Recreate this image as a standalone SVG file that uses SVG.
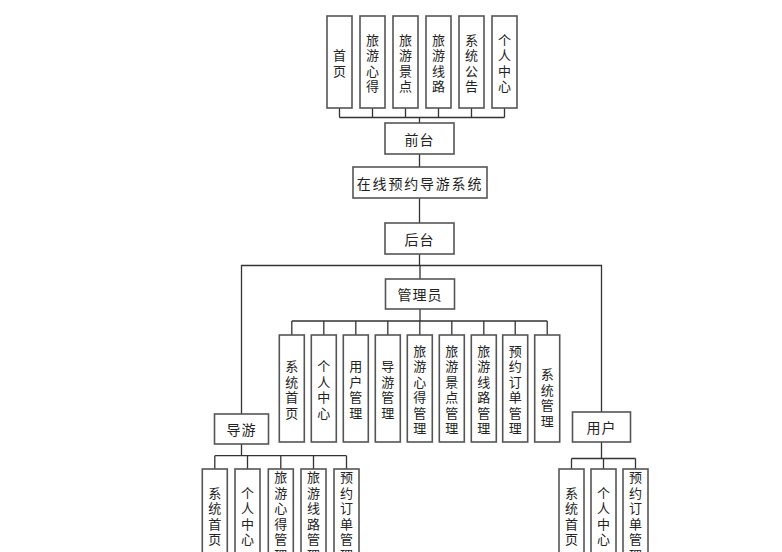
<svg xmlns="http://www.w3.org/2000/svg" width="782" height="552" viewBox="0 0 782 552">
<style>
.b{fill:#fff;stroke:#555;stroke-width:1.6}
.t{font-family:"Noto Sans CJK SC","Noto Sans",sans-serif;font-size:13px;fill:#222;text-anchor:middle;dominant-baseline:central}
.h{font-family:"Noto Sans CJK SC","Noto Sans",sans-serif;font-size:14px;fill:#222;text-anchor:middle;dominant-baseline:central;letter-spacing:1px}
.c{fill:none;stroke:#333;stroke-width:1.3}
</style>
<rect width="782" height="552" fill="#fff"/>
<g id="connectors">
<path class="c" d="M339.5 108V117.5M372.5 108V117.5M405.5 108V117.5M438.5 108V117.5M471.5 108V117.5M504.5 108V117.5M339.5 117.5H504.5M419.5 117.5V123"/>
<path class="c" d="M419.5 154V167M419.5 198V223M419.5 254V265.5"/>
<path class="c" d="M241.5 414V265.5H601.5V412M420 265.5V279"/>
<path class="c" d="M420 309V321M291.8 321H547.2M291.8 321V335M323.8 321V335M355.8 321V335M387.8 321V335M419.8 321V335M451.8 321V335M483.8 321V335M515.2 321V335M547.2 321V335"/>
<path class="c" d="M241.5 444V455.7M214.8 455.7H346.5M214.8 455.7V469M247.5 455.7V469M280.8 455.7V469M313.5 455.7V469M346.5 455.7V469"/>
<path class="c" d="M601.5 442V458.5M571.5 458.5H635.5M571.5 458.5V469M603.5 458.5V469M635.5 458.5V469"/>
</g>
<g id="n_shouye"><rect class="b" x="327" y="16" width="25" height="92"/><text class="t"><tspan x="339.5" y="54.3">首</tspan><tspan x="339.5" y="69.8">页</tspan></text></g>
<g id="n_xinde"><rect class="b" x="360" y="16" width="25" height="92"/><text class="t"><tspan x="372.5" y="38.8">旅</tspan><tspan x="372.5" y="54.3">游</tspan><tspan x="372.5" y="69.8">心</tspan><tspan x="372.5" y="85.3">得</tspan></text></g>
<g id="n_jingdian"><rect class="b" x="393" y="16" width="25" height="92"/><text class="t"><tspan x="405.5" y="38.8">旅</tspan><tspan x="405.5" y="54.3">游</tspan><tspan x="405.5" y="69.8">景</tspan><tspan x="405.5" y="85.3">点</tspan></text></g>
<g id="n_xianlu"><rect class="b" x="426" y="16" width="25" height="92"/><text class="t"><tspan x="438.5" y="38.8">旅</tspan><tspan x="438.5" y="54.3">游</tspan><tspan x="438.5" y="69.8">线</tspan><tspan x="438.5" y="85.3">路</tspan></text></g>
<g id="n_gonggao"><rect class="b" x="459" y="16" width="25" height="92"/><text class="t"><tspan x="471.5" y="38.8">系</tspan><tspan x="471.5" y="54.3">统</tspan><tspan x="471.5" y="69.8">公</tspan><tspan x="471.5" y="85.3">告</tspan></text></g>
<g id="n_geren"><rect class="b" x="492" y="16" width="25" height="92"/><text class="t"><tspan x="504.5" y="38.8">个</tspan><tspan x="504.5" y="54.3">人</tspan><tspan x="504.5" y="69.8">中</tspan><tspan x="504.5" y="85.3">心</tspan></text></g>
<g id="n_qiantai"><rect class="b" x="385" y="123" width="69" height="31"/><text class="h" x="419.5" y="138.5">前台</text></g>
<g id="n_system"><rect class="b" x="353" y="167" width="134" height="31"/><text class="h" x="420" y="182.5" style="letter-spacing:1.8px">在线预约导游系统</text></g>
<g id="n_houtai"><rect class="b" x="385" y="223" width="69" height="31"/><text class="h" x="419.5" y="238.5">后台</text></g>
<g id="n_admin"><rect class="b" x="385.5" y="279" width="69" height="30"/><text class="h" x="420" y="294">管理员</text></g>
<g id="a_shouye"><rect class="b" x="279.3" y="335" width="25" height="107"/><text class="t"><tspan x="291.8" y="365.3">系</tspan><tspan x="291.8" y="380.8">统</tspan><tspan x="291.8" y="396.3">首</tspan><tspan x="291.8" y="411.8">页</tspan></text></g>
<g id="a_geren"><rect class="b" x="311.3" y="335" width="25" height="107"/><text class="t"><tspan x="323.8" y="365.3">个</tspan><tspan x="323.8" y="380.8">人</tspan><tspan x="323.8" y="396.3">中</tspan><tspan x="323.8" y="411.8">心</tspan></text></g>
<g id="a_yonghu"><rect class="b" x="343.3" y="335" width="25" height="107"/><text class="t"><tspan x="355.8" y="365.3">用</tspan><tspan x="355.8" y="380.8">户</tspan><tspan x="355.8" y="396.3">管</tspan><tspan x="355.8" y="411.8">理</tspan></text></g>
<g id="a_daoyou"><rect class="b" x="375.3" y="335" width="25" height="107"/><text class="t"><tspan x="387.8" y="365.3">导</tspan><tspan x="387.8" y="380.8">游</tspan><tspan x="387.8" y="396.3">管</tspan><tspan x="387.8" y="411.8">理</tspan></text></g>
<g id="a_xinde"><rect class="b" x="407.3" y="335" width="25" height="107"/><text class="t"><tspan x="419.8" y="349.8">旅</tspan><tspan x="419.8" y="365.3">游</tspan><tspan x="419.8" y="380.8">心</tspan><tspan x="419.8" y="396.3">得</tspan><tspan x="419.8" y="411.8">管</tspan><tspan x="419.8" y="427.3">理</tspan></text></g>
<g id="a_jingdian"><rect class="b" x="439.3" y="335" width="25" height="107"/><text class="t"><tspan x="451.8" y="349.8">旅</tspan><tspan x="451.8" y="365.3">游</tspan><tspan x="451.8" y="380.8">景</tspan><tspan x="451.8" y="396.3">点</tspan><tspan x="451.8" y="411.8">管</tspan><tspan x="451.8" y="427.3">理</tspan></text></g>
<g id="a_xianlu"><rect class="b" x="471.3" y="335" width="25" height="107"/><text class="t"><tspan x="483.8" y="349.8">旅</tspan><tspan x="483.8" y="365.3">游</tspan><tspan x="483.8" y="380.8">线</tspan><tspan x="483.8" y="396.3">路</tspan><tspan x="483.8" y="411.8">管</tspan><tspan x="483.8" y="427.3">理</tspan></text></g>
<g id="a_dingdan"><rect class="b" x="502.7" y="335" width="25" height="107"/><text class="t"><tspan x="515.2" y="349.8">预</tspan><tspan x="515.2" y="365.3">约</tspan><tspan x="515.2" y="380.8">订</tspan><tspan x="515.2" y="396.3">单</tspan><tspan x="515.2" y="411.8">管</tspan><tspan x="515.2" y="427.3">理</tspan></text></g>
<g id="a_xitong"><rect class="b" x="534.7" y="335" width="25" height="107"/><text class="t"><tspan x="547.2" y="373">系</tspan><tspan x="547.2" y="388.5">统</tspan><tspan x="547.2" y="404">管</tspan><tspan x="547.2" y="419.5">理</tspan></text></g>
<g id="n_guide"><rect class="b" x="214.5" y="414" width="54" height="30"/><text class="h" x="241.5" y="429">导游</text></g>
<g id="n_user"><rect class="b" x="572.5" y="412" width="58" height="30"/><text class="h" x="601.5" y="427">用户</text></g>
<g id="g_shouye"><rect class="b" x="202.3" y="469" width="25" height="100"/><text class="t"><tspan x="214.8" y="491.5">系</tspan><tspan x="214.8" y="507">统</tspan><tspan x="214.8" y="522.5">首</tspan><tspan x="214.8" y="538">页</tspan></text></g>
<g id="g_geren"><rect class="b" x="235" y="469" width="25" height="100"/><text class="t"><tspan x="247.5" y="491.5">个</tspan><tspan x="247.5" y="507">人</tspan><tspan x="247.5" y="522.5">中</tspan><tspan x="247.5" y="538">心</tspan></text></g>
<g id="g_xinde"><rect class="b" x="268.3" y="469" width="25" height="100"/><text class="t"><tspan x="280.8" y="476">旅</tspan><tspan x="280.8" y="491.5">游</tspan><tspan x="280.8" y="507">心</tspan><tspan x="280.8" y="522.5">得</tspan><tspan x="280.8" y="538">管</tspan><tspan x="280.8" y="553.5">理</tspan></text></g>
<g id="g_xianlu"><rect class="b" x="301" y="469" width="25" height="100"/><text class="t"><tspan x="313.5" y="476">旅</tspan><tspan x="313.5" y="491.5">游</tspan><tspan x="313.5" y="507">线</tspan><tspan x="313.5" y="522.5">路</tspan><tspan x="313.5" y="538">管</tspan><tspan x="313.5" y="553.5">理</tspan></text></g>
<g id="g_dingdan"><rect class="b" x="334" y="469" width="25" height="100"/><text class="t"><tspan x="346.5" y="476">预</tspan><tspan x="346.5" y="491.5">约</tspan><tspan x="346.5" y="507">订</tspan><tspan x="346.5" y="522.5">单</tspan><tspan x="346.5" y="538">管</tspan><tspan x="346.5" y="553.5">理</tspan></text></g>
<g id="u_shouye"><rect class="b" x="559" y="469" width="25" height="100"/><text class="t"><tspan x="571.5" y="491.5">系</tspan><tspan x="571.5" y="507">统</tspan><tspan x="571.5" y="522.5">首</tspan><tspan x="571.5" y="538">页</tspan></text></g>
<g id="u_geren"><rect class="b" x="591" y="469" width="25" height="100"/><text class="t"><tspan x="603.5" y="491.5">个</tspan><tspan x="603.5" y="507">人</tspan><tspan x="603.5" y="522.5">中</tspan><tspan x="603.5" y="538">心</tspan></text></g>
<g id="u_dingdan"><rect class="b" x="623" y="469" width="25" height="100"/><text class="t"><tspan x="635.5" y="476">预</tspan><tspan x="635.5" y="491.5">约</tspan><tspan x="635.5" y="507">订</tspan><tspan x="635.5" y="522.5">单</tspan><tspan x="635.5" y="538">管</tspan><tspan x="635.5" y="553.5">理</tspan></text></g>
</svg>
